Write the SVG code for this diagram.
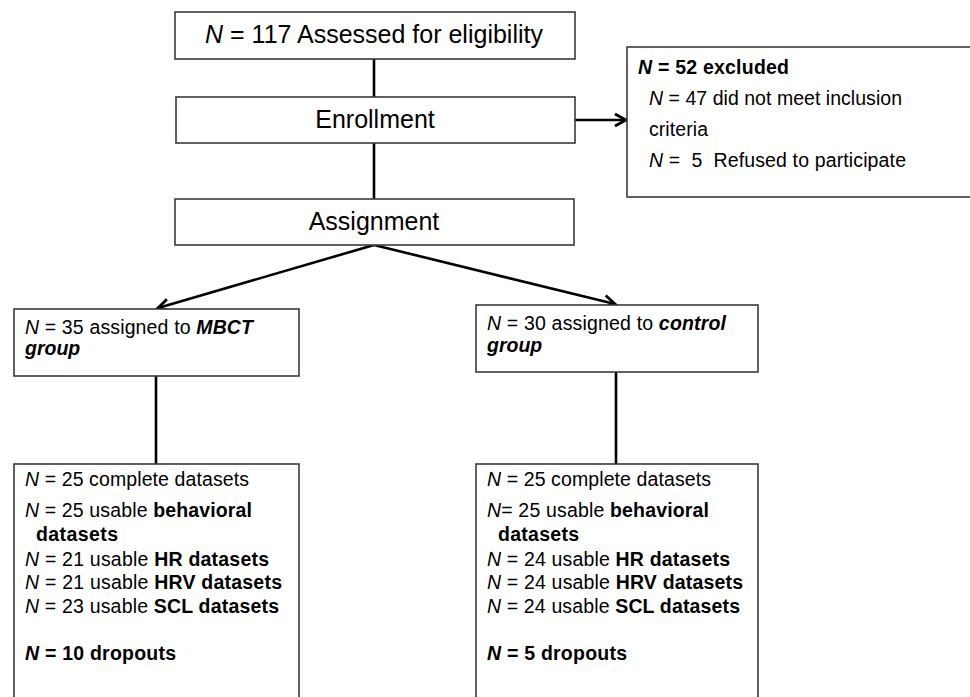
<svg xmlns="http://www.w3.org/2000/svg" width="970" height="697" viewBox="0 0 970 697">
<style>
.box{fill:#fff;stroke:#3a3a3a;stroke-width:1.6}
.con{stroke:#000;stroke-width:2.6;fill:none}
text{font-family:"Liberation Sans",Arial,sans-serif;fill:#000}
.big{font-size:25px}
.sm{font-size:19.5px}
.b{font-weight:bold}
.i{font-style:italic}
</style>
<defs>
<marker id="arr" markerUnits="userSpaceOnUse" markerWidth="18" markerHeight="18" viewBox="0 0 18 18" refX="15" refY="9" orient="auto">
<path d="M4,3 L15,9 L4,15" fill="none" stroke="#000" stroke-width="2.8"/>
</marker>
</defs>
<rect width="970" height="697" fill="#fff"/>
<g id="connectors">
<line class="con" x1="374" y1="59" x2="374" y2="97"/>
<line class="con" x1="374" y1="143" x2="374" y2="199"/>
<line class="con" x1="575" y1="120" x2="626" y2="120" marker-end="url(#arr)"/>
<line class="con" x1="374" y1="245" x2="158" y2="308" marker-end="url(#arr)"/>
<line class="con" x1="374" y1="245" x2="615" y2="304" marker-end="url(#arr)"/>
<line class="con" x1="156" y1="376" x2="156" y2="464"/>
<line class="con" x1="616" y1="372" x2="616" y2="464"/>
</g>
<g id="assessed">
<rect class="box" x="175" y="12" width="400" height="47"/>
<text class="big" x="374" y="43" text-anchor="middle"><tspan class="i">N</tspan> = 117 Assessed for eligibility</text>
</g>
<g id="enrollment">
<rect class="box" x="176" y="97" width="399" height="46"/>
<text class="big" x="375" y="128" text-anchor="middle">Enrollment</text>
</g>
<g id="assignment">
<rect class="box" x="175" y="199" width="399" height="46"/>
<text class="big" x="374" y="230" text-anchor="middle">Assignment</text>
</g>
<g id="excluded">
<rect class="box" x="627" y="47" width="350" height="150"/>
<text class="sm b" x="638" y="74" textLength="151" lengthAdjust="spacing"><tspan class="i">N</tspan> = 52 excluded</text>
<text class="sm" x="649" y="105" textLength="253" lengthAdjust="spacing"><tspan class="i">N</tspan> = 47 did not meet inclusion</text>
<text class="sm" x="649" y="136" textLength="59" lengthAdjust="spacing">criteria</text>
<text class="sm" x="649" y="167" xml:space="preserve" textLength="257" lengthAdjust="spacing"><tspan class="i">N</tspan> =  5  Refused to participate</text>
</g>
<g id="mbct">
<rect class="box" x="14" y="309" width="285" height="67"/>
<text class="sm" x="25" y="334" textLength="228" lengthAdjust="spacing"><tspan class="i">N</tspan> = 35 assigned to <tspan class="b i">MBCT</tspan></text>
<text class="sm b i" x="25" y="355">group</text>
</g>
<g id="control">
<rect class="box" x="476" y="305" width="282" height="67"/>
<text class="sm" x="487" y="330" textLength="239" lengthAdjust="spacing"><tspan class="i">N</tspan> = 30 assigned to <tspan class="b i">control</tspan></text>
<text class="sm b i" x="487" y="352">group</text>
</g>
<g id="mbct-results">
<rect class="box" x="14" y="464" width="285" height="245"/>
<text class="sm" x="25" y="486" textLength="224" lengthAdjust="spacing"><tspan class="i">N</tspan> = 25 complete datasets</text>
<text class="sm" x="25" y="517" textLength="227" lengthAdjust="spacing"><tspan class="i">N</tspan> = 25 usable <tspan class="b">behavioral</tspan></text>
<text class="sm b" x="36" y="541" textLength="82" lengthAdjust="spacing">datasets</text>
<text class="sm" x="25" y="566" textLength="244" lengthAdjust="spacing"><tspan class="i">N</tspan> = 21 usable <tspan class="b">HR datasets</tspan></text>
<text class="sm" x="25" y="589" textLength="257" lengthAdjust="spacing"><tspan class="i">N</tspan> = 21 usable <tspan class="b">HRV datasets</tspan></text>
<text class="sm" x="25" y="613" textLength="254" lengthAdjust="spacing"><tspan class="i">N</tspan> = 23 usable <tspan class="b">SCL datasets</tspan></text>
<text class="sm b" x="25" y="660" textLength="151" lengthAdjust="spacing"><tspan class="i">N</tspan> = 10 dropouts</text>
</g>
<g id="control-results">
<rect class="box" x="476" y="464" width="282" height="245"/>
<text class="sm" x="487" y="486" textLength="224" lengthAdjust="spacing"><tspan class="i">N</tspan> = 25 complete datasets</text>
<text class="sm" x="487" y="517" textLength="222" lengthAdjust="spacing"><tspan class="i">N</tspan>= 25 usable <tspan class="b">behavioral</tspan></text>
<text class="sm b" x="498" y="541" textLength="81" lengthAdjust="spacing">datasets</text>
<text class="sm" x="487" y="566" textLength="243" lengthAdjust="spacing"><tspan class="i">N</tspan> = 24 usable <tspan class="b">HR datasets</tspan></text>
<text class="sm" x="487" y="589" textLength="256" lengthAdjust="spacing"><tspan class="i">N</tspan> = 24 usable <tspan class="b">HRV datasets</tspan></text>
<text class="sm" x="487" y="613" textLength="253" lengthAdjust="spacing"><tspan class="i">N</tspan> = 24 usable <tspan class="b">SCL datasets</tspan></text>
<text class="sm b" x="487" y="660" textLength="140" lengthAdjust="spacing"><tspan class="i">N</tspan> = 5 dropouts</text>
</g>
</svg>
